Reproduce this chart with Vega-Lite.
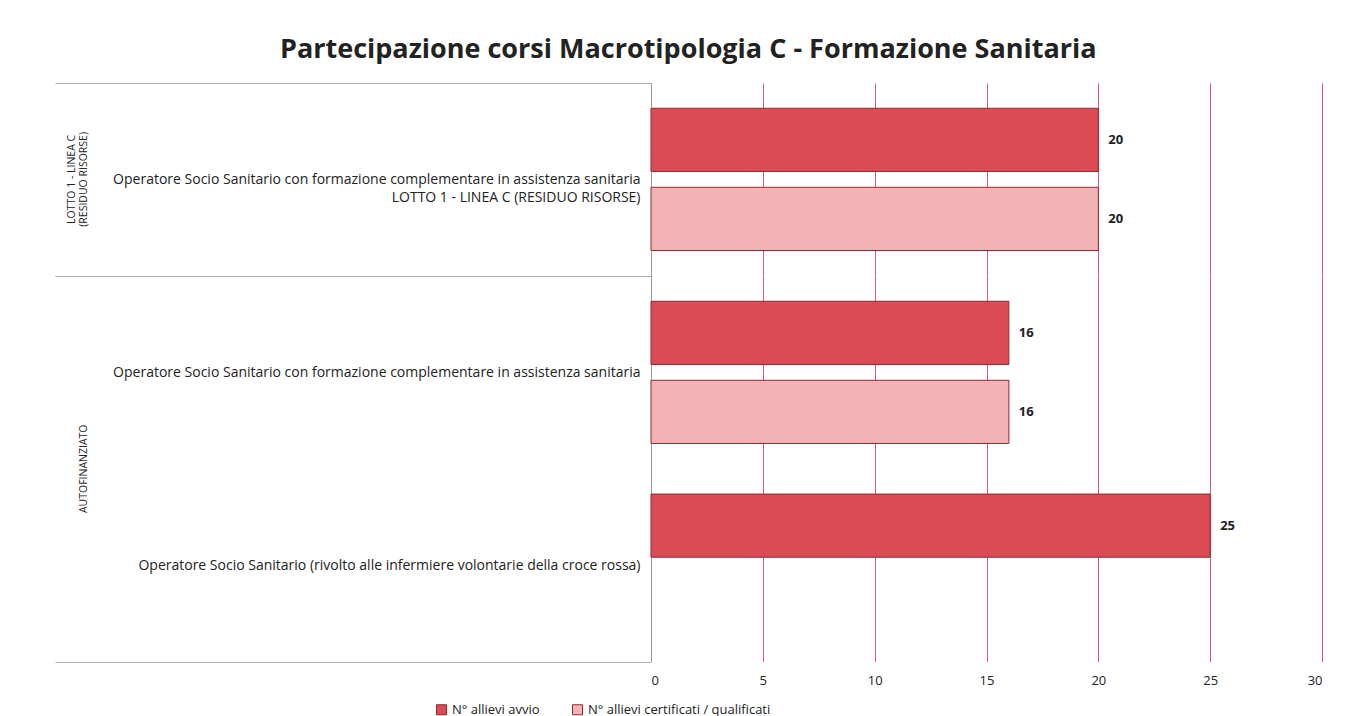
{
  "$schema": "https://vega.github.io/schema/vega-lite/v6.json",
  "background": "white",
  "padding": {"left": 54, "top": 36, "right": 10, "bottom": 10},
  "bounds": "flush",
  "title": {
    "text": "Partecipazione corsi Macrotipologia C  - Formazione Sanitaria",
    "font": "Open Sans",
    "fontSize": 27,
    "fontWeight": "bold",
    "color": "#222222",
    "anchor": "middle",
    "offset": 12
  },
  "data": {
    "values": [
      {"gruppo": "LOTTO 1 - LINEA C (RESIDUO RISORSE)", "corso": "Operatore Socio Sanitario con formazione complementare in assistenza sanitaria LOTTO 1 - LINEA C (RESIDUO RISORSE)", "serie": "N° allievi avvio", "valore": 20},
      {"gruppo": "LOTTO 1 - LINEA C (RESIDUO RISORSE)", "corso": "Operatore Socio Sanitario con formazione complementare in assistenza sanitaria LOTTO 1 - LINEA C (RESIDUO RISORSE)", "serie": "N° allievi certificati / qualificati", "valore": 20},
      {"gruppo": "AUTOFINANZIATO", "corso": "Operatore Socio Sanitario con formazione complementare in assistenza sanitaria", "serie": "N° allievi avvio", "valore": 16},
      {"gruppo": "AUTOFINANZIATO", "corso": "Operatore Socio Sanitario con formazione complementare in assistenza sanitaria", "serie": "N° allievi certificati / qualificati", "valore": 16},
      {"gruppo": "AUTOFINANZIATO", "corso": "Operatore Socio Sanitario (rivolto alle infermiere volontarie della croce rossa)", "serie": "N° allievi avvio", "valore": 25}
    ]
  },
  "facet": {
    "row": {
      "field": "gruppo",
      "type": "nominal",
      "sort": ["LOTTO 1 - LINEA C (RESIDUO RISORSE)", "AUTOFINANZIATO"],
      "title": null,
      "header": {
        "labelOrient": "left",
        "labelAngle": -90,
        "labelFont": "Open Sans",
        "labelFontSize": 10.5,
        "labelLineHeight": 12,
        "labelColor": "#222222",
        "labelPadding": 557,
        "labelExpr": "indexof(datum.label, ' (') > 0 ? [substring(datum.label, 0, indexof(datum.label, ' (')), substring(datum.label, indexof(datum.label, ' (') + 1)] : datum.label"
      }
    }
  },
  "spacing": 0,
  "resolve": {"scale": {"y": "independent"}},
  "spec": {
    "width": 671,
    "height": {"step": 79},
    "encoding": {
      "y": {
        "field": "corso",
        "type": "nominal",
        "sort": [
          "Operatore Socio Sanitario con formazione complementare in assistenza sanitaria LOTTO 1 - LINEA C (RESIDUO RISORSE)",
          "Operatore Socio Sanitario con formazione complementare in assistenza sanitaria",
          "Operatore Socio Sanitario (rivolto alle infermiere volontarie della croce rossa)"
        ],
        "scale": {"paddingInner": 0, "paddingOuter": 0},
        "title": null,
        "axis": {
          "domainColor": "#9a9a9a",
          "tickBand": "extent",
          "tickSize": 596,
          "tickColor": "#b0b0b0",
          "tickOpacity": {
            "condition": {"test": "datum.value === 'Operatore Socio Sanitario con formazione complementare in assistenza sanitaria'", "value": 0},
            "value": 1
          },
          "labelPadding": -585,
          "labelFont": "Open Sans",
          "labelFontSize": 14,
          "labelLineHeight": 18,
          "labelColor": "#222222",
          "labelLimit": 700,
          "labelExpr": "indexof(datum.label, ' LOTTO') > 0 ? [substring(datum.label, 0, indexof(datum.label, ' LOTTO')), substring(datum.label, indexof(datum.label, ' LOTTO') + 1)] : datum.label"
        }
      },
      "x": {
        "field": "valore",
        "type": "quantitative",
        "scale": {"domain": [0, 30]},
        "title": null,
        "axis": {
          "values": [0, 5, 10, 15, 20, 25, 30],
          "domain": false,
          "ticks": false,
          "gridColor": "#d4587a",
          "labelFont": "Open Sans",
          "labelFontSize": 13,
          "labelColor": "#222222",
          "labelPadding": 12
        }
      },
      "yOffset": {
        "field": "serie",
        "type": "nominal",
        "scale": {
          "domain": ["N° allievi avvio", "N° allievi certificati / qualificati"],
          "paddingInner": 0.2,
          "paddingOuter": 0.32
        }
      }
    },
    "layer": [
      {
        "mark": {"type": "bar", "stroke": "#8e2a36", "strokeWidth": 1},
        "encoding": {
          "color": {
            "field": "serie",
            "type": "nominal",
            "scale": {
              "domain": ["N° allievi avvio", "N° allievi certificati / qualificati"],
              "range": ["#dc4b55", "#f3b3b5"]
            },
            "legend": {
              "title": null,
              "orient": "none",
              "legendX": -216,
              "legendY": 620,
              "direction": "horizontal",
              "symbolType": "square",
              "symbolStrokeColor": "#8e2a36",
              "symbolStrokeWidth": 1,
              "labelFont": "Open Sans",
              "labelFontSize": 13,
              "labelColor": "#222222",
              "labelLimit": 400,
              "columnPadding": 30
            }
          }
        }
      },
      {
        "mark": {"type": "text", "align": "left", "dx": 10, "font": "Open Sans", "fontSize": 13, "fontWeight": "bold", "color": "#222222"},
        "encoding": {
          "text": {"field": "valore", "type": "quantitative"}
        }
      }
    ]
  },
  "config": {
    "view": {"stroke": null}
  }
}
